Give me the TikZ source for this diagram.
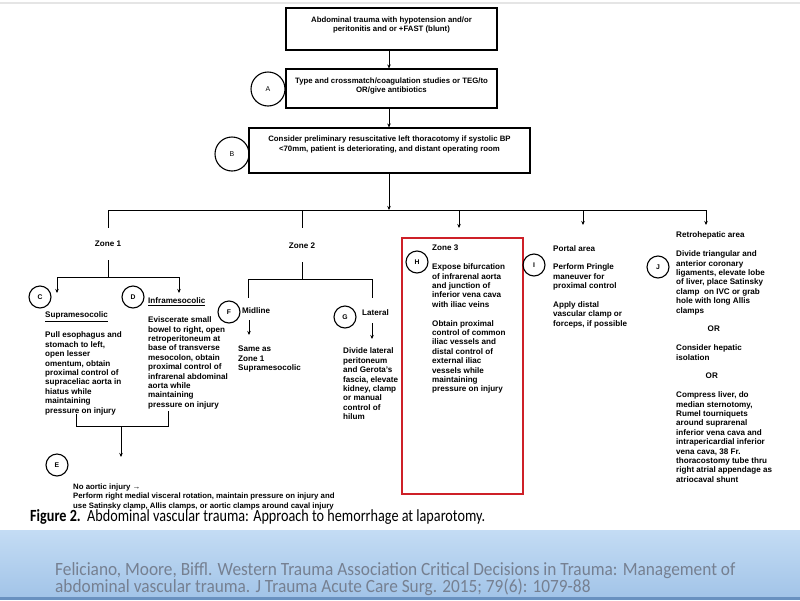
\documentclass[tikz,border=0pt]{standalone}
\usepackage{fontspec}
\setmainfont{Liberation Sans}
\newfontfamily\capfont{Carlito}
\usetikzlibrary{arrows.meta}
\definecolor{zred}{RGB}{206,32,40}
\definecolor{bandtop}{RGB}{196,220,244}
\definecolor{bandbot}{RGB}{162,196,232}
\definecolor{bandline}{RGB}{105,145,192}
\definecolor{foottxt}{RGB}{118,128,145}
\begin{document}
\begin{tikzpicture}[x=1pt,y=-1pt,
  every node/.style={inner sep=0pt, font=\bfseries\fontsize{8.1}{9.4}\selectfont},
  box/.style={draw, line width=1.1pt, inner sep=0pt},
  circ/.style={draw, circle, line width=1.1pt, minimum size=22pt, font=\bfseries\fontsize{6.8}{7}\selectfont},
  bigcirc/.style={circ, minimum size=34pt, font=\fontsize{7}{7}\selectfont},
  txt/.style={anchor=north west, align=left},
  ctxt/.style={align=center, font=\bfseries\fontsize{7.8}{9.6}\selectfont},
  ln/.style={line width=0.9pt},
  arr/.style={ln, -{Stealth[length=4pt,width=3.5pt]}},
]
\useasboundingbox (0,0) rectangle (800,600);
\fill[white] (0,0) rectangle (800,600);
% top shadow line
\fill[black!10] (0,1.5) rectangle (800,4);

% main boxes
\node[box, minimum width=211pt, minimum height=42pt] (b1) at (391.5,29) {};
\node[ctxt] (t1) at (391.5,25) {Abdominal trauma with hypotension and/or\\peritonitis and or +FAST (blunt)};
\node[box, minimum width=211pt, minimum height=39pt] (bA) at (391.5,88.5) {};
\node[ctxt] (tA) at (391.5,86) {Type and crossmatch/coagulation studies or TEG/to\\OR/give antibiotics};
\node[bigcirc] (cA) at (268,89) {A};
\node[box, minimum width=281pt, minimum height=45pt] (bB) at (389.5,150.5) {};
\node[ctxt] (tB) at (389.5,144.5) {Consider preliminary resuscitative left thoracotomy if systolic BP\\<70mm, patient is deteriorating, and distant operating room};
\node[bigcirc] (cB) at (232,154) {B};

\draw[arr] (b1.south -| 389,0) -- (bA.north -| 389,0);
\draw[arr] (bA.south -| 389,0) -- (bB.north -| 389,0);

% bar
\coordinate (barL) at (108,210);
\coordinate (barR) at (706,210);
\coordinate (bar2) at (302,210);
\coordinate (bar3) at (459,210);
\coordinate (bar4) at (583,210);
\draw[arr] (bB.south -| 389,0) -- (389,210);
\draw[ln] (barL) -- (barR);

% zone labels
\node (z1) at (108,244) {Zone 1};
\node (z2) at (302,246) {Zone 2};
\coordinate (z1a) at (108,228);
\coordinate (z1b) at (108,260);
\coordinate (z1c) at (108,277);
\coordinate (z1l) at (57,277);
\coordinate (z1r) at (179,277);
\coordinate (z1le) at (57,293);
\coordinate (z1re) at (179,293);
\draw[ln] (barL) -- (z1a);
\draw[ln] (z1b) -- (z1c);
\draw[ln] (z1l) -- (z1r);
\draw[arr] (z1l) -- (z1le);
\draw[arr] (z1r) -- (z1re);

\coordinate (z2a) at (302,228);
\coordinate (z2b) at (302,262);
\coordinate (z2c) at (302,279);
\coordinate (z2l) at (248,279);
\coordinate (z2r) at (372,279);
\coordinate (z2le) at (248,298);
\coordinate (z2re) at (372,298);
\draw[ln] (bar2) -- (z2a);
\draw[ln] (z2b) -- (z2c);
\draw[ln] (z2l) -- (z2r);
\draw[ln] (z2l) -- (z2le);
\draw[ln] (z2r) -- (z2re);

% zone 3, portal, retro arrows
\node[draw=zred, line width=2.3pt, minimum width=121pt, minimum height=256pt, anchor=north west] (z3) at (400.5,236.5) {};
\coordinate (z3a) at (459,228);
\coordinate (z4a) at (583,225);
\coordinate (z5a) at (706,225);
\draw[arr] (bar3) -- (z3a);
\draw[arr] (bar4) -- (z4a);
\draw[arr] (barR) -- (z5a);

% Zone 1 branches
\node[circ] (cC) at (40,297) {C};
\node[circ] (cD) at (133,297) {D};
\node[txt] (tC) at (45,311.8) {\underline{Supramesocolic}\\[9.4pt]Pull esophagus and\\stomach to left,\\open lesser\\omentum, obtain\\proximal control of\\supraceliac aorta in\\hiatus while\\maintaining\\pressure on injury};
\node[txt] (tD) at (148,297.8) {\underline{Inframesocolic}\\[9.4pt]Eviscerate small\\bowel to right, open\\retroperitoneum at\\base of transverse\\mesocolon, obtain\\proximal control of\\infrarenal abdominal\\aorta while\\maintaining\\pressure on injury};

\coordinate (brL) at (76,414);
\coordinate (brLb) at (76,426);
\coordinate (brR) at (168,411);
\coordinate (brRb) at (168,426);
\coordinate (brM) at (121,426);
\coordinate (brE) at (121,457);
\draw[ln] (brL) -- (brLb) -- (brRb) -- (brR);
\draw[arr] (brM) -- (brE);

\node[circ] (cE) at (57,465) {E};
\node[txt, font=\bfseries\fontsize{7.8}{9.1}\selectfont] (tE) at (73,484) {No aortic injury →\\Perform right medial visceral rotation, maintain pressure on injury and\\use Satinsky clamp, Allis clamps, or aortic clamps around caval injury};

% Zone 2 branches
\node[circ] (cF) at (229,312) {F};
\node[txt] (tF0) at (242,307.8) {Midline};
\coordinate (fa) at (249,320);
\coordinate (fb) at (249,335);
\draw[arr] (fa) -- (fb);
\node[txt] (tF) at (238,345.8) {Same as\\Zone 1\\Supramesocolic};

\node[circ] (cG) at (345,317) {G};
\node[txt] (tG0) at (362,309.8) {Lateral};
\coordinate (ga) at (372,323);
\coordinate (gb) at (372,339);
\draw[arr] (ga) -- (gb);
\node[txt] (tG) at (343,347.8) {Divide lateral\\peritoneum\\and Gerota's\\fascia, elevate\\kidney, clamp\\or manual\\control of\\hilum};

% Zone 3
\node[circ] (cH) at (417,262) {H};
\node[txt] (tH) at (432,245) {Zone 3\\[9.4pt]Expose bifurcation\\of infrarenal aorta\\and junction of\\inferior vena cava\\with iliac veins\\[9.4pt]Obtain proximal\\control of common\\iliac vessels and\\distal control of\\external iliac\\vessels while\\maintaining\\pressure on injury};

% Portal
\node[circ] (cI) at (534,265) {I};
\node[txt] (tI) at (553,245) {Portal area\\[9.4pt]Perform Pringle\\maneuver for\\proximal control\\[9.4pt]Apply distal\\vascular clamp or\\forceps, if possible};

% Retrohepatic
\node[circ] (cJ) at (658,267) {J};
\node[txt] (tJ) at (676,231.8) {Retrohepatic area\\[9.4pt]Divide triangular and\\anterior coronary\\ligaments, elevate lobe\\of liver, place Satinsky\\clamp\ \ on IVC or grab\\hole with long Allis\\clamps\\[9.4pt]\hspace*{31.5pt}OR\\[9.4pt]Consider hepatic\\isolation\\[9.4pt]\hspace*{29.5pt}OR\\[9.4pt]Compress liver, do\\median sternotomy,\\Rumel tourniquets\\around suprarenal\\inferior vena cava and\\intrapericardial inferior\\vena cava, 38 Fr.\\thoracostomy tube thru\\right atrial appendage as\\atriocaval shunt};

% caption
\node[anchor=base west, font=\capfont\fontsize{14.2}{15}\selectfont] (cap) at (30,521) {\scalebox{1}[1.2]{\textbf{Figure 2.}\ \ Abdominal vascular trauma: Approach to hemorrhage at laparotomy.}};

% footer band
\shade[top color=bandtop, bottom color=bandbot] (0,530) rectangle (800,597);
\fill[bandline] (0,597) rectangle (800,600);
\node[anchor=base west, text=foottxt, font=\capfont\fontsize{17.3}{18}\selectfont] (f1) at (55,575) {\scalebox{1}[1.08]{Feliciano, Moore, Biffl. Western Trauma Association Critical Decisions in Trauma: Management of}};
\node[anchor=base west, text=foottxt, font=\capfont\fontsize{17.3}{18}\selectfont] (f2) at (55,592.5) {\scalebox{1}[1.08]{abdominal vascular trauma. J Trauma Acute Care Surg. 2015; 79(6): 1079-88}};
\end{tikzpicture}
\end{document}
